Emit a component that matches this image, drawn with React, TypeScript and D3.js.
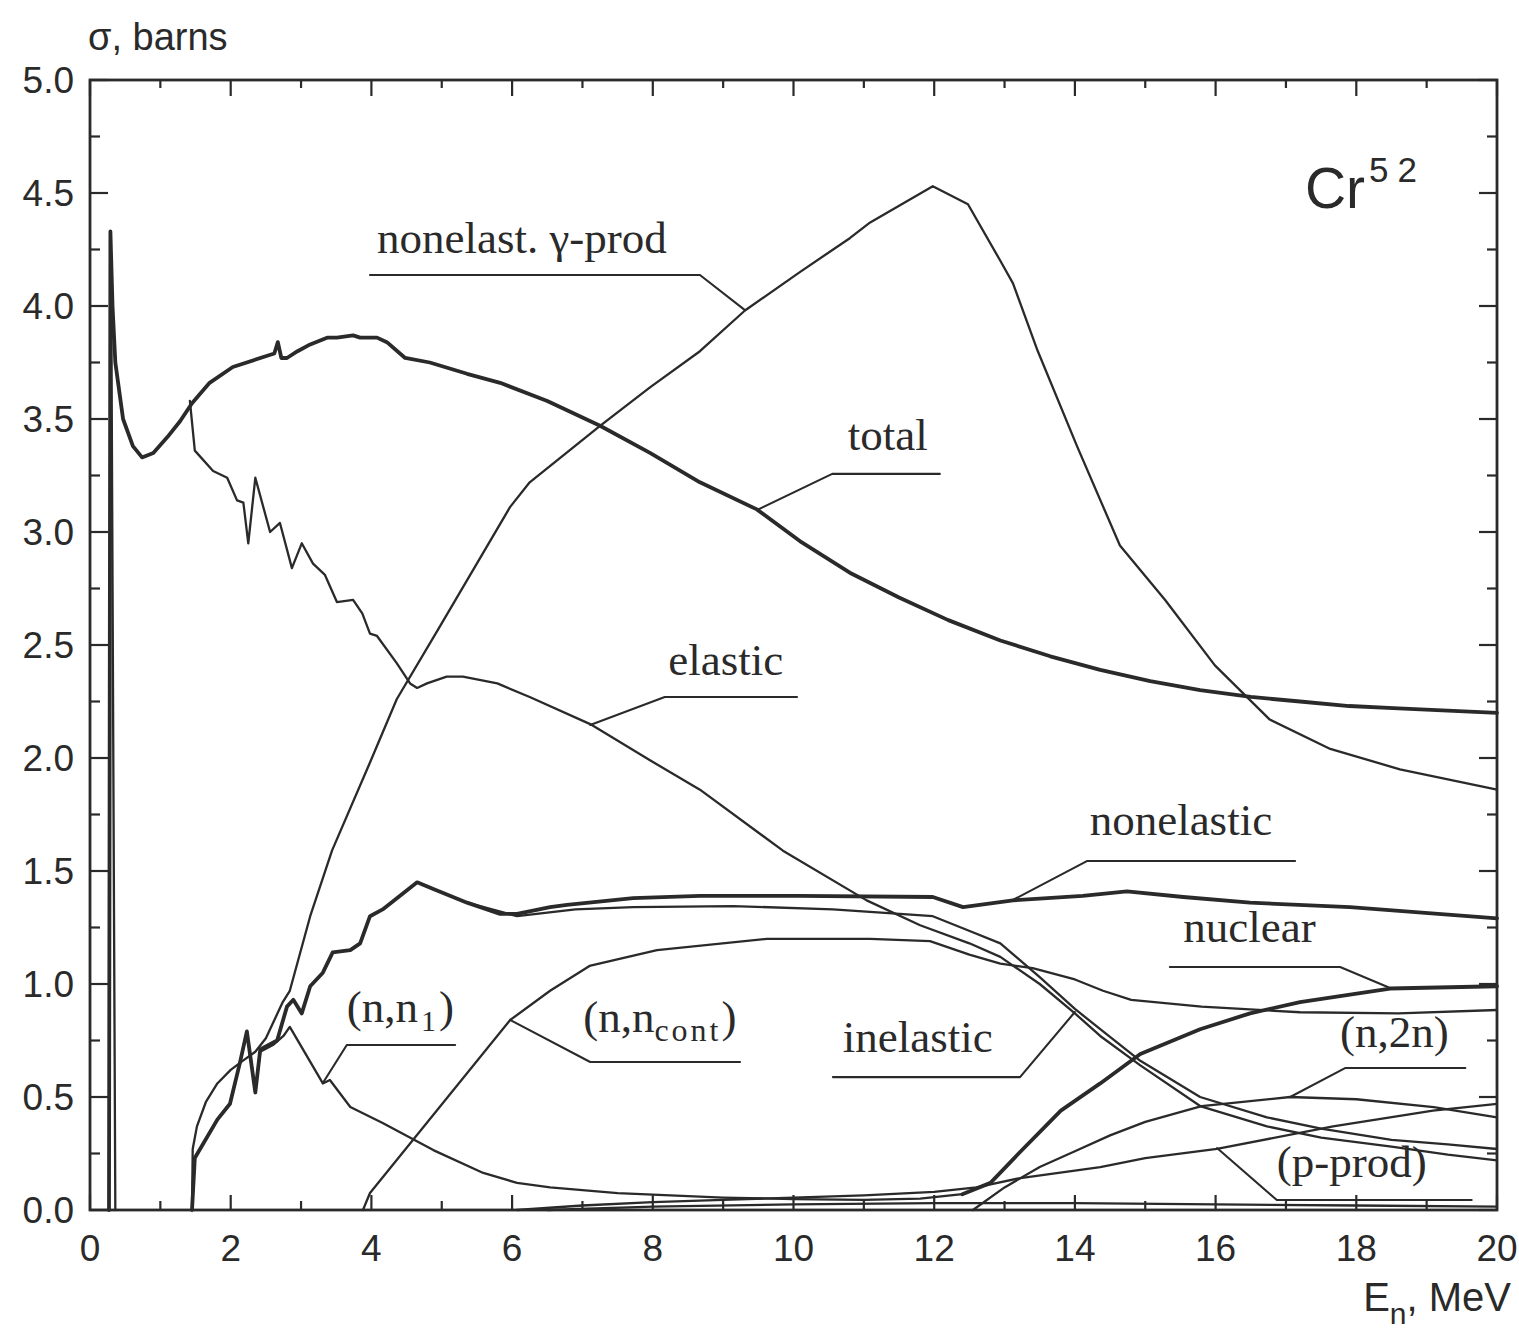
import React from "react";
import * as d3 from "d3";

type P = [number, number];

// ---- axis ticks ----
const xMajorTicks = [0, 2, 4, 6, 8, 10, 12, 14, 16, 18, 20];
const xMinorTicks = [1, 3, 5, 7, 9, 11, 13, 15, 17, 19];
const yMajorTicks = [0, 0.5, 1, 1.5, 2, 2.5, 3, 3.5, 4, 4.5, 5];
const yMinorTicks = [0.25, 0.75, 1.25, 1.75, 2.25, 2.75, 3.25, 3.75, 4.25, 4.75];
const yTickLabels = ["0.0", "0.5", "1.0", "1.5", "2.0", "2.5", "3.0", "3.5", "4.0", "4.5", "5.0"];

// ---- series (E in MeV, sigma in barns) ----
const totalXS: P[] = [
  [0.27, 0], [0.29, 4.33], [0.32, 4.0], [0.36, 3.75], [0.47, 3.5], [0.61, 3.38], [0.74, 3.33],
  [0.9, 3.35], [1.1, 3.42], [1.28, 3.49], [1.45, 3.57], [1.7, 3.66], [2.03, 3.73], [2.52, 3.78],
  [2.62, 3.79], [2.67, 3.84], [2.72, 3.77], [2.8, 3.77], [2.95, 3.8], [3.13, 3.83], [3.37, 3.86],
  [3.51, 3.86], [3.74, 3.87], [3.84, 3.86], [4.08, 3.86], [4.22, 3.84], [4.48, 3.77], [4.83, 3.75],
  [5.36, 3.7], [5.83, 3.66], [6.5, 3.58], [7.25, 3.47], [7.96, 3.35], [8.67, 3.22], [9.48, 3.1],
  [10.09, 2.96], [10.8, 2.82], [11.5, 2.71], [12.2, 2.61], [12.94, 2.52], [13.65, 2.45],
  [14.36, 2.39], [15.07, 2.34], [15.78, 2.3], [16.5, 2.27], [17.2, 2.25], [17.9, 2.23],
  [18.6, 2.22], [19.3, 2.21], [20, 2.2],
];
const spikeEdge: P[] = [[0.3, 4.2], [0.36, 0]];
const elasticXS: P[] = [
  [1.42, 3.58], [1.49, 3.36], [1.75, 3.27], [1.95, 3.24], [2.09, 3.14], [2.18, 3.13], [2.25, 2.95],
  [2.35, 3.24], [2.56, 3.0], [2.7, 3.04], [2.87, 2.84], [3.01, 2.95], [3.17, 2.86], [3.34, 2.81],
  [3.51, 2.69], [3.74, 2.7], [3.87, 2.64], [3.98, 2.55], [4.08, 2.54], [4.36, 2.42], [4.55, 2.33],
  [4.65, 2.31], [4.79, 2.33], [5.07, 2.36], [5.3, 2.36], [5.79, 2.33], [6.25, 2.27], [7.11, 2.15],
  [7.96, 1.99], [8.67, 1.86], [9.85, 1.59], [11.04, 1.37], [11.8, 1.26], [12.5, 1.18], [12.94, 1.12],
  [13.5, 1.0], [14.0, 0.87], [14.36, 0.77], [14.93, 0.64], [15.78, 0.46], [16.73, 0.37],
  [17.5, 0.32], [18.5, 0.28], [19.3, 0.245], [20, 0.22],
];
const nonelasticXS: P[] = [
  [1.45, 0], [1.49, 0.23], [1.81, 0.4], [1.99, 0.47], [2.13, 0.65], [2.23, 0.79], [2.35, 0.52],
  [2.42, 0.71], [2.66, 0.75], [2.8, 0.9], [2.89, 0.93], [3.01, 0.87], [3.13, 0.99], [3.31, 1.05],
  [3.45, 1.14], [3.7, 1.15], [3.84, 1.18], [3.98, 1.3], [4.16, 1.33], [4.65, 1.45], [4.88, 1.42],
  [5.36, 1.36], [5.83, 1.31], [6.07, 1.31], [6.54, 1.34], [6.78, 1.35], [7.72, 1.38], [8.67, 1.39],
  [10.09, 1.39], [11.98, 1.385], [12.41, 1.34], [13.12, 1.37], [14.11, 1.39], [14.74, 1.41],
  [15.54, 1.385], [16.49, 1.36], [17.91, 1.34], [20, 1.29],
];
const inelasticXS: P[] = [
  [5.36, 1.36], [6.07, 1.3], [6.9, 1.33], [7.72, 1.34], [9.14, 1.345], [10.56, 1.33],
  [11.51, 1.31], [11.98, 1.3], [12.46, 1.24], [12.94, 1.18], [13.5, 1.03], [14.0, 0.89],
  [14.36, 0.8], [14.93, 0.66], [15.78, 0.5], [16.73, 0.41], [17.5, 0.36], [18.5, 0.31],
  [19.3, 0.29], [20, 0.27],
];
const gammaProdXS: P[] = [
  [1.45, 0], [1.46, 0.27], [1.52, 0.37], [1.65, 0.48], [1.81, 0.56], [2.0, 0.62], [2.17, 0.66],
  [2.35, 0.7], [2.5, 0.76], [2.74, 0.92], [2.84, 0.97], [3.13, 1.3], [3.44, 1.59], [3.98, 1.98],
  [4.36, 2.26], [4.97, 2.58], [5.97, 3.11], [6.25, 3.22], [7.25, 3.47], [7.96, 3.64], [8.67, 3.8],
  [9.31, 3.98], [10.09, 4.15], [10.8, 4.3], [11.09, 4.37], [11.98, 4.53], [12.48, 4.45],
  [12.94, 4.2], [13.12, 4.1], [13.46, 3.81], [14.03, 3.38], [14.64, 2.94], [15.28, 2.7],
  [15.99, 2.41], [16.77, 2.17], [17.63, 2.04], [18.62, 1.95], [20, 1.86],
];
const nn1XS: P[] = [
  [1.45, 0], [1.49, 0.23], [1.81, 0.4], [1.99, 0.47], [2.13, 0.65], [2.23, 0.79], [2.35, 0.52],
  [2.42, 0.7], [2.6, 0.73], [2.75, 0.77], [2.84, 0.81], [3.31, 0.56], [3.41, 0.575], [3.7, 0.456],
  [4.16, 0.385], [4.88, 0.265], [5.59, 0.164], [6.07, 0.12], [6.54, 0.1], [7.5, 0.075],
  [9, 0.055], [10, 0.048], [11, 0.045], [11.8, 0.05], [12.4, 0.07],
];
const nnContXS: P[] = [
  [3.88, 0], [3.98, 0.075], [5.97, 0.84], [6.54, 0.97], [7.1, 1.08], [8.06, 1.15], [9.62, 1.2],
  [11.09, 1.2], [11.94, 1.19], [12.5, 1.13], [12.94, 1.09], [13.4, 1.07], [14.0, 1.02],
  [14.4, 0.97], [14.8, 0.93], [15.8, 0.9], [17.2, 0.875], [18.6, 0.87], [20, 0.885],
];
const nuclearXS: P[] = [
  [12.4, 0.07], [12.8, 0.12], [13.2, 0.25], [13.8, 0.44], [14.36, 0.56], [14.93, 0.69],
  [15.78, 0.8], [16.49, 0.87], [17.2, 0.92], [18.48, 0.98], [20, 0.99],
];
const n2nXS: P[] = [
  [12.55, 0], [13.0, 0.1], [13.5, 0.19], [14.0, 0.26], [14.5, 0.33], [15.0, 0.39], [15.8, 0.46],
  [17.06, 0.5], [18, 0.49], [19.1, 0.455], [20, 0.41],
];
const pProdXS: P[] = [
  [6.07, 0], [7, 0.02], [8, 0.035], [9, 0.045], [10, 0.055], [11, 0.065], [12, 0.08],
  [12.6, 0.1], [13.2, 0.14], [14.36, 0.19], [15, 0.23], [16.02, 0.27], [17.67, 0.37],
  [19.09, 0.44], [20, 0.47],
];
const minorXS: P[] = [
  [6.5, 0], [8, 0.015], [10, 0.025], [12, 0.03], [14, 0.03], [16, 0.025], [18, 0.02], [20, 0.015],
];

// ---- label leaders ----
const leaderGamma: P[] = [[3.98, 4.137], [8.67, 4.137], [9.31, 3.982]];
const leaderTotal: P[] = [[9.48, 3.097], [10.55, 3.257], [12.08, 3.257]];
const leaderElastic: P[] = [[7.11, 2.146], [8.17, 2.27], [10.05, 2.27]];
const leaderNonelastic: P[] = [[13.12, 1.372], [14.17, 1.544], [17.13, 1.544]];
const leaderNuclear: P[] = [[15.35, 1.075], [17.77, 1.075], [18.48, 0.982]];
const leaderNn1: P[] = [[3.31, 0.562], [3.65, 0.73], [5.19, 0.73]];
const leaderNnCont: P[] = [[5.97, 0.841], [7.11, 0.655], [9.24, 0.655]];
const leaderInelastic: P[] = [[14.0, 0.876], [13.22, 0.588], [10.56, 0.588]];
const leaderN2n: P[] = [[17.06, 0.5], [17.84, 0.628], [19.55, 0.628]];
const leaderPProd: P[] = [[16.02, 0.274], [16.87, 0.044], [19.64, 0.044]];

const W = 1519;
const H = 1334;
const INK = "#2a2a2a";
const SANS = "'Liberation Sans', Arial, sans-serif";
const SERIF = "'Liberation Serif', 'Times New Roman', serif";

export default function App() {
  const x = d3.scaleLinear().domain([0, 20]).range([90, 1497]);
  const y = d3.scaleLinear().domain([0, 5]).range([1210, 80]);
  const line = d3.line<P>().x((d) => x(d[0])).y((d) => y(d[1]));

  const thick: P[][] = [totalXS, nonelasticXS, nuclearXS];
  const thin: P[][] = [spikeEdge, elasticXS, inelasticXS, gammaProdXS, nn1XS, nnContXS, n2nXS, pProdXS, minorXS];
  const leaders: P[][] = [leaderGamma, leaderTotal, leaderElastic, leaderNonelastic, leaderNuclear, leaderNn1, leaderNnCont, leaderInelastic, leaderN2n, leaderPProd];

  const x0 = x(0), x1 = x(20), y0 = y(0), y1 = y(5);
  const lbl = { fontFamily: SERIF, fontSize: 45, fill: INK } as const;

  return (
    <svg width={W} height={H} style={{ position: "absolute", left: 0, top: 0, background: "#fff" }}>
      <rect x={0} y={0} width={W} height={H} fill="#fff" />
      {/* frame */}
      <rect x={x0} y={y1} width={x1 - x0} height={y0 - y1} fill="none" stroke={INK} strokeWidth={2.8} />
      {/* ticks */}
      {yMajorTicks.map((v) => (
        <g key={"ym" + v}>
          <line x1={x0} x2={x0 + 18} y1={y(v)} y2={y(v)} stroke={INK} strokeWidth={2.2} />
          <line x1={x1} x2={x1 - 18} y1={y(v)} y2={y(v)} stroke={INK} strokeWidth={2.2} />
        </g>
      ))}
      {yMinorTicks.map((v) => (
        <g key={"yn" + v}>
          <line x1={x0} x2={x0 + 10} y1={y(v)} y2={y(v)} stroke={INK} strokeWidth={2.2} />
          <line x1={x1} x2={x1 - 10} y1={y(v)} y2={y(v)} stroke={INK} strokeWidth={2.2} />
        </g>
      ))}
      {xMajorTicks.map((v) => (
        <g key={"xm" + v}>
          <line x1={x(v)} x2={x(v)} y1={y0} y2={y0 - 15} stroke={INK} strokeWidth={2.2} />
          <line x1={x(v)} x2={x(v)} y1={y1} y2={y1 + 16} stroke={INK} strokeWidth={2.2} />
        </g>
      ))}
      {xMinorTicks.map((v) => (
        <g key={"xn" + v}>
          <line x1={x(v)} x2={x(v)} y1={y0} y2={y0 - 9} stroke={INK} strokeWidth={2.2} />
          <line x1={x(v)} x2={x(v)} y1={y1} y2={y1 + 8} stroke={INK} strokeWidth={2.2} />
        </g>
      ))}
      {/* tick labels */}
      {yMajorTicks.map((v, i) => (
        <text key={"yl" + v} x={74} y={y(v) + 13} textAnchor="end" fontFamily={SANS} fontSize={37} fill={INK}>
          {yTickLabels[i]}
        </text>
      ))}
      {xMajorTicks.map((v) => (
        <text key={"xl" + v} x={x(v)} y={1261} textAnchor="middle" fontFamily={SANS} fontSize={37} fill={INK}>
          {v}
        </text>
      ))}
      <text x={88} y={50} fontFamily={SANS} fontSize={38} fill={INK}>σ, barns</text>
      <text x={1511} y={1311} textAnchor="end" fontFamily={SANS} fontSize={40} fill={INK}>
        E<tspan dy={13} fontSize={30}>n</tspan><tspan dy={-13}>, MeV</tspan>
      </text>
      <text x={x(17.27)} y={y(4.434)} fontFamily={SANS} fontSize={57} fill={INK}>
        Cr<tspan dx={4} dy={-26} fontSize={35} letterSpacing={9}>52</tspan>
      </text>

      {/* curves */}
      <g fill="none" stroke={INK} strokeLinejoin="round" strokeLinecap="round">
        {thin.map((s, i) => (
          <path key={"t" + i} d={line(s) || ""} strokeWidth={2.3} />
        ))}
        {thick.map((s, i) => (
          <path key={"k" + i} d={line(s) || ""} strokeWidth={3.8} />
        ))}
        {leaders.map((s, i) => (
          <path key={"l" + i} d={line(s) || ""} strokeWidth={2.1} />
        ))}
      </g>

      {/* curve labels */}
      <text x={x(4.08)} y={y(4.235)} {...lbl}>nonelast. γ-prod</text>
      <text x={x(10.77)} y={y(3.363)} {...lbl}>total</text>
      <text x={x(8.22)} y={y(2.367)} {...lbl}>elastic</text>
      <text x={x(14.21)} y={y(1.659)} {...lbl}>nonelastic</text>
      <text x={x(15.54)} y={y(1.186)} {...lbl}>nuclear</text>
      <text x={x(3.65)} y={y(0.832)} {...lbl}>
        (n,n<tspan dx={3} dy={9} fontSize={30}>1</tspan><tspan dx={3} dy={-9}>)</tspan>
      </text>
      <text x={x(7.01)} y={y(0.788)} {...lbl}>
        (n,n<tspan dy={9} fontSize={32} letterSpacing={3}>cont</tspan><tspan dy={-9}>)</tspan>
      </text>
      <text x={x(10.7)} y={y(0.699)} {...lbl}>inelastic</text>
      <text x={x(17.77)} y={y(0.721)} {...lbl}>(n,2n)</text>
      <text x={x(16.87)} y={y(0.146)} {...lbl}>(p-prod)</text>
    </svg>
  );
}
